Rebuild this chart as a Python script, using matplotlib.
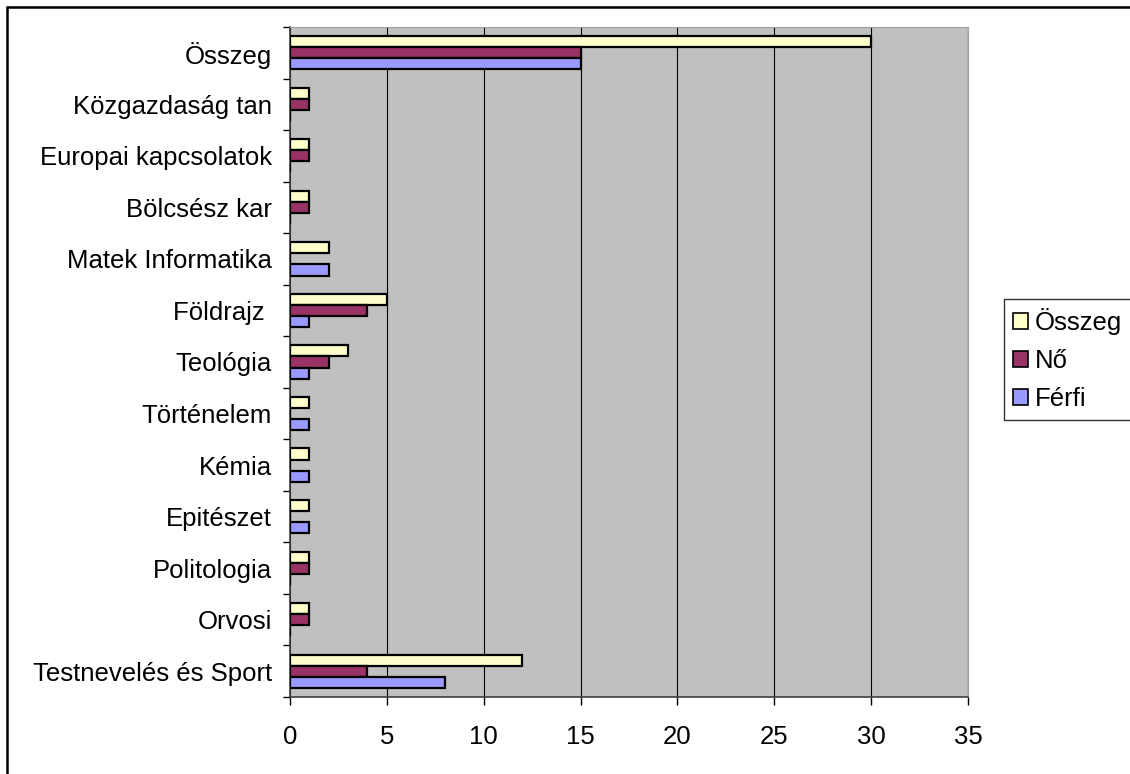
import numpy as np
import matplotlib.pyplot as plt
from matplotlib.patches import Rectangle

plt.rcParams['font.family'] = ['Liberation Sans', 'DejaVu Sans']

# categories, bottom to top
karok = ['Testnevelés és Sport', 'Orvosi', 'Politologia', 'Epitészet', 'Kémia',
         'Történelem', 'Teológia', 'Földrajz ', 'Matek Informatika', 'Bölcsész kar',
         'Europai kapcsolatok', 'Közgazdaság tan', 'Összeg']
osszeg = [12, 1, 1, 1, 1, 1, 3, 5, 2, 1, 1, 1, 30]
no = [4, 1, 1, 0, 0, 0, 2, 4, 0, 1, 1, 1, 15]
ferfi = [8, 0, 0, 1, 1, 1, 1, 1, 2, 0, 0, 0, 15]
xticks = [0, 5, 10, 15, 20, 25, 30, 35]

fig = plt.figure(figsize=(11.3, 7.74), dpi=100)
ax = fig.add_axes([0.2566, 0.0995, 0.6, 0.8656])

y = np.arange(len(karok))
h = 0.215
ax.barh(y + h, osszeg, height=h, color='#FFFFCC', edgecolor='black', linewidth=1.6, label='Összeg', zorder=3)
ax.barh(y, no, height=h, color='#993366', edgecolor='black', linewidth=1.6, label='Nő', zorder=3)
ax.barh(y - h, ferfi, height=h, color='#9999FF', edgecolor='black', linewidth=1.6, label='Férfi', zorder=3)

ax.set_facecolor('#C0C0C0')
ax.set_xlim(0, 35)
ax.set_ylim(-0.5, len(karok) - 0.5)
ax.set_xticks(xticks)
ax.set_yticks(y)
ax.set_yticklabels(karok)
ax.set_yticks(np.arange(-0.5, len(karok), 1), minor=True)
ax.tick_params(axis='y', which='major', length=0, pad=13, labelsize=18.5)
ax.tick_params(axis='y', which='minor', length=5, width=1)
ax.tick_params(axis='x', length=6, width=1, pad=14, labelsize=18.5)
ax.xaxis.grid(True, color='black', linewidth=0.8, zorder=1)
ax.set_axisbelow(True)
for s in ['top', 'right']:
    ax.spines[s].set_color('#A0A0A0')
for s in ['left', 'bottom']:
    ax.spines[s].set_color('#404040')
    ax.spines[s].set_linewidth(1.2)

leg = ax.legend(loc='upper left', bbox_to_anchor=(0.8885, 0.6137), bbox_transform=fig.transFigure,
                fontsize=18.5, frameon=True, fancybox=False, edgecolor='black',
                handlelength=0.6, handleheight=0.6, handletextpad=0.25, labelspacing=0.55,
                borderpad=0.35, borderaxespad=0)
leg.get_frame().set_linewidth(1)
for p in leg.get_patches():
    p.set_linewidth(1.2)

# frame round the whole chart
fig.patches.append(Rectangle((7 / 1130, -0.05), 1.2, 1 - 7 / 774 + 0.05, transform=fig.transFigure,
                             fill=False, edgecolor='black', linewidth=1.8))

fig.savefig('out.png', dpi=100)
